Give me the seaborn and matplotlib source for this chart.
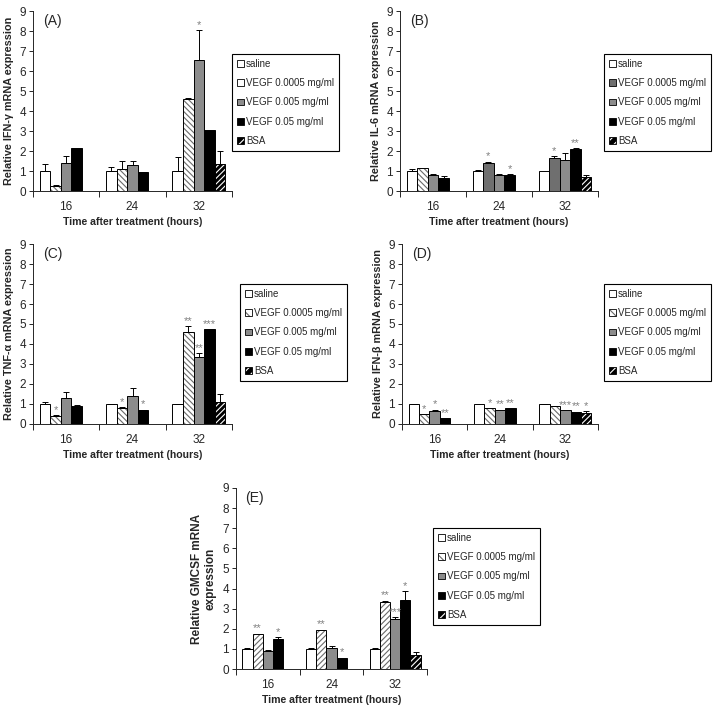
import numpy as np
import pandas as pd
import seaborn as sns
import matplotlib.pyplot as plt
from matplotlib.patches import Patch
from matplotlib.colors import to_rgba

nan = np.nan

# categorias
times = ["16", "24", "32"]
groups = ["saline", "VEGF 0.0005 mg/ml", "VEGF 0.005 mg/ml", "VEGF 0.05 mg/ml", "BSA"]

# (A) IFN-gamma  -- linhas = tempos, colunas = grupos
ifng_mean = [[1.0, 0.25, 1.4, 2.15, nan],
             [1.0, 1.12, 1.3, 0.95, nan],
             [1.0, 4.6, 6.55, 3.05, 1.35]]
ifng_err = [[0.35, 0.05, 0.35, 0.0, 0],
            [0.2, 0.4, 0.2, 0.02, 0],
            [0.7, 0.07, 1.5, 0.0, 0.65]]
ifng_sig = [["", "", "", "", ""],
            ["", "", "", "", ""],
            ["", "", "*", "", ""]]

# (B) IL-6
il6_mean = [[1.0, 1.15, 0.78, 0.65, nan],
            [1.0, 1.4, 0.8, 0.8, nan],
            [1.0, 1.65, 1.55, 2.1, 0.7]]
il6_err = [[0.08, 0.0, 0.08, 0.08, 0],
           [0.03, 0.07, 0.03, 0.04, 0],
           [0.0, 0.08, 0.35, 0.03, 0.12]]
il6_sig = [["", "", "", "", ""],
           ["", "*", "", "*", ""],
           ["", "*", "", "**", ""]]

# (C) TNF-alpha
tnf_mean = [[1.0, 0.4, 1.3, 0.9, nan],
            [1.0, 0.8, 1.4, 0.68, nan],
            [1.0, 4.6, 3.35, 4.75, 1.1]]
tnf_err = [[0.12, 0.03, 0.28, 0.03, 0],
           [0.02, 0.05, 0.4, 0.03, 0],
           [0.02, 0.3, 0.18, 0.0, 0.4]]
tnf_sig = [["", "*", "", "", ""],
           ["", "*", "", "*", ""],
           ["", "**", "**", "***", ""]]

# (D) IFN-beta
ifnb_mean = [[1.0, 0.48, 0.63, 0.28, nan],
             [1.0, 0.8, 0.72, 0.8, nan],
             [1.0, 0.88, 0.68, 0.62, 0.55]]
ifnb_err = [[0.02, 0.0, 0.08, 0.0, 0],
            [0.0, 0.0, 0.0, 0.0, 0],
            [0.02, 0.02, 0.0, 0.0, 0.08]]
ifnb_sig = [["", "*", "*", "**", ""],
            ["", "*", "**", "**", ""],
            ["", "", "***", "**", "*"]]

# (E) GMCSF
gmcsf_mean = [[1.0, 1.75, 0.88, 1.5, nan],
              [1.0, 1.95, 1.05, 0.55, nan],
              [1.0, 3.35, 2.5, 3.45, 0.68]]
gmcsf_err = [[0.02, 0.0, 0.07, 0.08, 0],
             [0.02, 0.0, 0.07, 0.0, 0],
             [0.05, 0.05, 0.08, 0.42, 0.17]]
gmcsf_sig = [["", "**", "", "*", ""],
             ["", "**", "", "*", ""],
             ["", "**", "***", "*", ""]]

face = ["white", "white", "#8c8c8c", "black", "black"]
hatches = ["", "\\\\\\\\\\\\", "", "", "//////"]
hatch_col = [None, "#6a6a6a", None, None, "white"]

sns.set_style("ticks")
plt.rcParams["font.family"] = ["Liberation Sans", "DejaVu Sans"]
plt.rcParams["hatch.linewidth"] = 0.8

fig = plt.figure(figsize=(7.14, 7.12), dpi=100)
W, H = 714, 712


def px_axes(x0, y0, x1, y1):
    return fig.add_axes([x0 / W, 1 - y1 / H, (x1 - x0) / W, (y1 - y0) / H])


def panel(ax, letter, ylabel, mean, err, sig, leg_xy, hatch2=None,
          b_quirk=False, ylab_size=7.8):
    rows = []
    for i, t in enumerate(times):
        for j, g in enumerate(groups):
            rows.append({"time": t, "group": g, "value": mean[i][j]})
    df = pd.DataFrame(rows).dropna()
    pal = dict(zip(groups, face))
    sns.barplot(data=df, x="time", y="value", hue="group", order=times,
                hue_order=groups, palette=pal, saturation=1, width=0.8,
                edgecolor="black", linewidth=0.7, errorbar=None,
                legend=False, ax=ax)
    bw = 0.8 / len(groups)
    for p in ax.patches:
        xc = p.get_x() + p.get_width() / 2
        i = int(round(xc))
        k = int(round((xc - i) / bw + 2))
        top = p.get_height()
        if b_quirk and k == 1 and i > 0:
            # B: the 0.0005 bars at 24 and 32 h are plain dark grey in the original
            p.set_facecolor("#6f6f6f")
        else:
            h = hatch2 if (hatch2 is not None and k == 1) else hatches[k]
            p.set_hatch(h)
            if hatch_col[k] is not None:
                p._hatch_color = to_rgba(hatch_col[k])  # hatch colour != edge colour
        e = err[i][k]
        if e > 0:
            ax.errorbar(xc, top, yerr=[[0], [e]], fmt="none", ecolor="black",
                        elinewidth=0.7, capsize=2.5, capthick=0.7)
        if sig[i][k]:
            ax.text(xc, top + e + 0.02, sig[i][k], ha="center", va="bottom",
                    fontsize=8, color="#808080")

    ax.set_xlim(-0.5, 2.5)
    ax.set_ylim(0, 9)
    ax.set_yticks(range(10))
    ax.set_xticks([0, 1, 2])
    ax.set_xticks([-0.5, 0.5, 1.5, 2.5], minor=True)
    ax.tick_params(axis="x", which="major", length=0, labelsize=8.5, pad=7)
    ax.tick_params(axis="x", which="minor", length=4, width=0.7, direction="out")
    ax.tick_params(axis="y", length=3, width=0.7, labelsize=8.5, pad=2)
    for s in ["top", "right"]:
        ax.spines[s].set_visible(False)
    for s in ["left", "bottom"]:
        ax.spines[s].set_linewidth(0.7)
    ax.set_xlabel("Time after treatment (hours)", fontsize=7.6, fontweight="bold",
                  labelpad=3)
    ax.set_ylabel(ylabel, fontsize=ylab_size, fontweight="bold", labelpad=4)
    ax.text(0.05, 0.985, letter, transform=ax.transAxes, va="top", fontsize=10)

    handles = []
    for k, g in enumerate(groups):
        hd = Patch(facecolor=face[k], edgecolor="black", linewidth=0.6, label=g)
        if b_quirk and k == 1:
            hd.set_facecolor("#6f6f6f")
        elif k in (1, 4):
            hd.set_hatch("////" if k == 4 else "\\\\")
            hd._hatch_color = to_rgba(hatch_col[k])
        handles.append(hd)
    ax.legend(handles=handles, loc="upper left",
              bbox_to_anchor=(leg_xy[0] / W, 1 - leg_xy[1] / H),
              bbox_transform=fig.transFigure, fontsize=7, frameon=True,
              fancybox=False, edgecolor="black", framealpha=1,
              handlelength=0.7, handleheight=0.7, handletextpad=0.25,
              labelspacing=0.95, borderpad=0.5, borderaxespad=0)
    ax.get_legend().get_frame().set_linewidth(0.8)


axA = px_axes(33, 11, 232, 191)
panel(axA, "(A)", "Relative IFN-\u03b3 mRNA expression", ifng_mean, ifng_err,
      ifng_sig, (232, 54))
axB = px_axes(400, 11, 598, 191)
panel(axB, "(B)", "Relative IL-6 mRNA expression", il6_mean, il6_err,
      il6_sig, (604, 54), b_quirk=True)
axC = px_axes(33, 244, 232, 424)
panel(axC, "(C)", "Relative TNF-\u03b1 mRNA expression", tnf_mean, tnf_err,
      tnf_sig, (240, 284))
axD = px_axes(402, 244, 598, 424)
panel(axD, "(D)", "Relative IFN-\u03b2 mRNA expression", ifnb_mean, ifnb_err,
      ifnb_sig, (604, 284))
axE = px_axes(236, 488, 427, 669)
panel(axE, "(E)", "Relative GMCSF mRNA\nexpression", gmcsf_mean, gmcsf_err,
      gmcsf_sig, (433, 528), hatch2="//////", ylab_size=8.5)

fig.savefig("out.png", dpi=100)
